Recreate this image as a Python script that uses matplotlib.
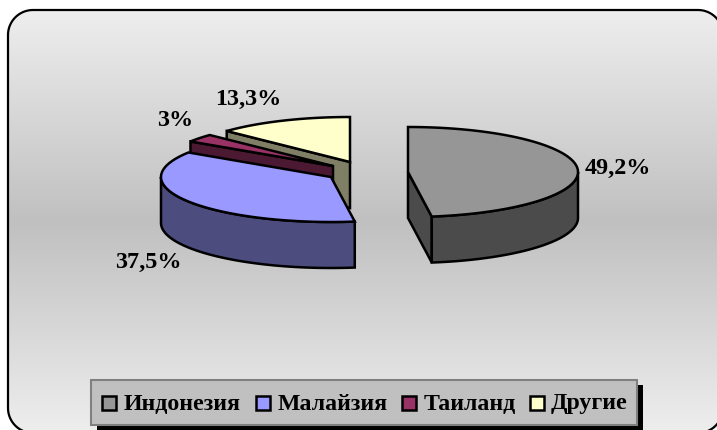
"""3D exploded pie: share of rubber producers, drawn from the values."""
import matplotlib
matplotlib.use("Agg")
import matplotlib.pyplot as plt
import numpy as np
from matplotlib.colors import LinearSegmentedColormap
from matplotlib.patches import Polygon, Rectangle

###############################################################################
# Data:
categories = ["Индонезия", "Малайзия", "Таиланд", "Другие"]
values = [49.2, 37.5, 3, 13.3]
value_labels = ["49,2%", "37,5%", "3%", "13,3%"]

###############################################################################
# Styles and layout (pixel coordinates of the 717x430 picture):
top_colors = ["#969696", "#9999FF", "#993366", "#FFFFCC"]
side_colors = ["#4B4B4B", "#4C4C7F", "#4C1933", "#7F7F66"]
centers = [(408, 172), (331, 177), (333, 166), (350, 162)]
label_pos = [(617.5, 168), (148.5, 262), (175, 121), (248, 99)]
legend_swatch_x = [102, 256, 402, 530]
legend_text_x = [124, 278, 424, 551]
RX, RY, DEPTH = 170, 45, 46
LW = 1.8
font = {"family": "Liberation Serif", "weight": "bold"}


def rim(center, theta):
    """Point(s) on the rim of the tilted disc, angle clockwise from 12 o'clock."""
    t = np.radians(theta)
    return np.column_stack([center[0] + RX * np.sin(t), center[1] - RY * np.cos(t)])


def draw_poly(ax, pts, color, z):
    ax.add_patch(Polygon(pts, closed=True, facecolor=color, edgecolor="black",
                         linewidth=LW, joinstyle="miter", zorder=z))


def draw_cut(ax, center, theta, color, z):
    # flat face of the slice along one radius
    p = rim(center, [theta])[0]
    draw_poly(ax, [center, p, (p[0], p[1] + DEPTH), (center[0], center[1] + DEPTH)], color, z)


def draw_wall(ax, center, t0, t1, color, z):
    # outer curved wall between two angles
    arc = rim(center, np.linspace(t0, t1, 60))
    draw_poly(ax, np.vstack([arc, (arc + [0, DEPTH])[::-1]]), color, z)


def draw_top(ax, center, t0, t1, color, z):
    arc = rim(center, np.linspace(t0, t1, 120))
    draw_poly(ax, np.vstack([[center], arc]), color, z)


def round_rect(x0, y0, x1, y1, r):
    # outline of the frame with circular corners
    t = np.radians(np.linspace(0, 90, 20))
    s, c = r * np.sin(t), r * np.cos(t)
    return np.vstack([
        np.column_stack([x0 + r - c, y0 + r - s]),
        np.column_stack([x1 - r + s, y0 + r - c]),
        np.column_stack([x1 - r + c, y1 - r + s]),
        np.column_stack([x0 + r - s, y1 - r + c]),
    ])


fig = plt.figure(figsize=(7.17, 4.30), dpi=100)
ax = fig.add_axes([0, 0, 1, 1])

###############################################################################
# Rounded frame with a light-dark-light vertical gradient:
outline = round_rect(8, 10, 723, 433, 25)
cmap = LinearSegmentedColormap.from_list("bg", ["#EEEEEE", "#C0C0C0", "#EEEEEE"])
grad = np.linspace(0, 1, 256).reshape(-1, 1)
img = ax.imshow(grad, cmap=cmap, extent=(8, 723, 433, 10), aspect="auto", zorder=0)
frame = Polygon(outline, closed=True, facecolor="none", edgecolor="black",
                linewidth=1.6, zorder=1)
ax.add_patch(frame)
img.set_clip_path(frame)
ax.set_xlim(0, 717)
ax.set_ylim(430, 0)
ax.axis("off")

###############################################################################
# Slices, back to front:
edges = np.concatenate([[0], np.cumsum(values)]) / np.sum(values) * 360
start, end = edges[:-1], edges[1:]

draw_cut(ax, centers[3], start[3], side_colors[3], 2)
draw_top(ax, centers[3], start[3], end[3], top_colors[3], 3)

draw_cut(ax, centers[2], start[2], side_colors[2], 4)
draw_top(ax, centers[2], start[2], end[2], top_colors[2], 5)

draw_wall(ax, centers[1], start[1], 270, side_colors[1], 6)
draw_top(ax, centers[1], start[1], end[1], top_colors[1], 7)

draw_cut(ax, centers[0], end[0], side_colors[0], 2)
draw_wall(ax, centers[0], 90, end[0], side_colors[0], 3)
draw_top(ax, centers[0], start[0], end[0], top_colors[0], 4)

for (x, y), text in zip(label_pos, value_labels):
    ax.text(x, y, text, ha="center", va="center", fontsize=17.4, zorder=10, **font)

###############################################################################
# Legend box with hard shadow:
ax.add_patch(Rectangle((97, 385), 546, 45, facecolor="black", edgecolor="none", zorder=8))
ax.add_patch(Rectangle((91, 380), 546, 45, facecolor="#C0C0C0", edgecolor="#808080",
                       linewidth=1.5, zorder=9))
for sx, tx, name, color in zip(legend_swatch_x, legend_text_x, categories, top_colors):
    ax.add_patch(Rectangle((sx, 396), 14, 14, facecolor=color, edgecolor="black",
                           linewidth=1.8, zorder=10))
    ax.text(tx, 404, name, ha="left", va="center", fontsize=17.2, zorder=10, **font)

fig.savefig("out.png", dpi=100)
